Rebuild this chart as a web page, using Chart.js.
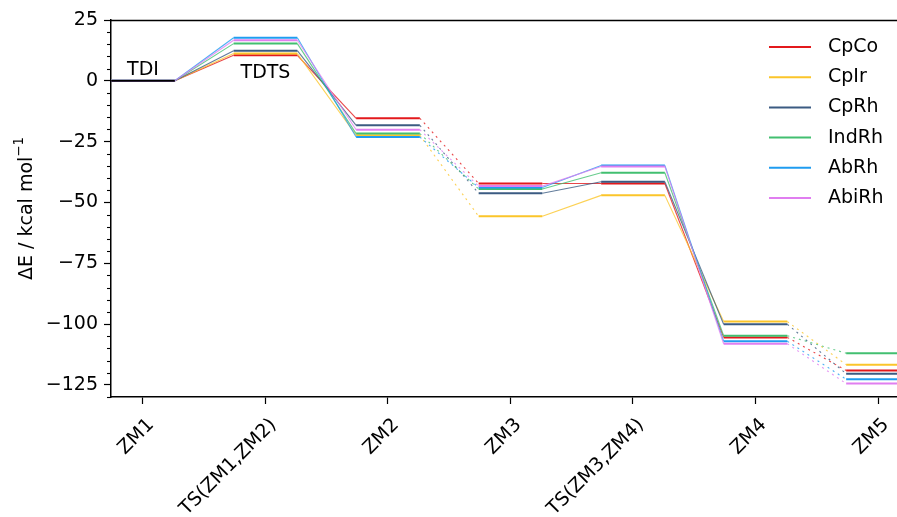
<!DOCTYPE html>
<html><head><meta charset="utf-8">
<script src="https://cdn.jsdelivr.net/npm/chart.js@4"></script>
<style>html,body{margin:0;padding:0;background:#fff}#wrap{width:897px;height:517px;position:relative}</style>
</head><body><div id="wrap"><canvas id="c"></canvas></div>
<script>
const states = ['ZM1','TS(ZM1,ZM2)','ZM2','ZM3','TS(ZM3,ZM4)','ZM4','ZM5'];
const speciesNames = ['CpCo','CpIr','CpRh','IndRh','AbRh','AbiRh'];
const CpCo  = [0, 10.5, -15.4, -42.2, -42.2, -105.5, -119.1];
const CpIr  = [0, 11.2, -22.4, -55.7, -47.1,  -99.0, -116.7];
const CpRh  = [0, 12.4, -18.3, -46.2, -41.5, -100.1, -120.4];
const IndRh = [0, 15.3, -21.7, -44.5, -37.8, -104.8, -112.0];
const AbRh  = [0, 17.7, -23.1, -43.9, -34.8, -107.1, -122.7];
const AbiRh = [0, 16.7, -20.1, -43.3, -35.2, -108.1, -124.5];
const yTicks = [25, 0, -25, -50, -75, -100, -125];
const dottedLinks = [2, 5];
const annotations = [{text:'TDI', x:0, y:4.6}, {text:'TDTS', x:1, y:3.3}];

const seriesValues = [CpCo, CpIr, CpRh, IndRh, AbRh, AbiRh];
const colors = ['#e3191c', '#fbc52a', '#3b5b82', '#42bf70', '#1f9cf0', '#e07ef0'];
const HW = 0.26;
const FONT = '"DejaVu Sans", sans-serif';
const FS = 19;

function rgba(hex, a){const n=parseInt(hex.slice(1),16);return `rgba(${n>>16},${(n>>8)&255},${n&255},${a})`;}

const datasets = seriesValues.map((vals, si) => {
  const data = [];
  vals.forEach((v, i) => { data.push({x:i-HW, y:v}); data.push({x:i+HW, y:v}); });
  const c = colors[si];
  return {
    label: speciesNames[si], data, order: 10 - si,
    borderColor: c, borderWidth: 2, pointRadius: 0, fill: false, tension: 0,
    segment: {
      borderWidth: ctx => ctx.p0DataIndex % 2 === 0 ? 2 : 1.1,
      borderColor: ctx => ctx.p0DataIndex % 2 === 0 ? c : rgba(c, 0.8),
      borderDash: ctx => (ctx.p0DataIndex % 2 === 1 && dottedLinks.includes((ctx.p0DataIndex-1)/2)) ? [2, 4] : undefined
    }
  };
});
datasets.push({label:'_ref', data:[{x:-HW,y:0},{x:HW,y:0}], borderColor:'#000', borderWidth:1.8, pointRadius:0, order:-1});

const extras = {
  id: 'extras',
  afterDraw(chart) {
    const {ctx, chartArea:ca, scales:{x, y}} = chart;
    ctx.save();
    ctx.strokeStyle = '#000'; ctx.lineWidth = 1.5;
    ctx.beginPath(); ctx.moveTo(ca.left, ca.top + 0.5); ctx.lineTo(ca.right, ca.top + 0.5); ctx.stroke();
    ctx.lineWidth = 1.1;
    for (let v = -130; v <= 25; v += 5) {
      if (v % 25 === 0) continue;
      const py = Math.round(y.getPixelForValue(v)) + 0.5;
      ctx.beginPath(); ctx.moveTo(ca.left - 4, py); ctx.lineTo(ca.left, py); ctx.stroke();
    }
    ctx.fillStyle = '#000'; ctx.font = `${FS}px ${FONT}`;
    ctx.textAlign = 'center'; ctx.textBaseline = 'middle';
    annotations.forEach(a => ctx.fillText(a.text, x.getPixelForValue(a.x), y.getPixelForValue(a.y)));
    ctx.save();
    ctx.translate(27, (ca.top + ca.bottom) / 2);
    ctx.rotate(-Math.PI / 2);
    const main = 'ΔE / kcal mol';
    const sup = '−1';
    ctx.font = `${FS}px ${FONT}`;
    const w1 = ctx.measureText(main).width;
    ctx.font = `${FS*0.7}px ${FONT}`;
    const w2 = ctx.measureText(sup).width;
    const start = -(w1 + w2) / 2;
    ctx.textAlign = 'left'; ctx.textBaseline = 'middle';
    ctx.font = `${FS}px ${FONT}`;
    ctx.fillText(main, start, 0);
    ctx.font = `${FS*0.7}px ${FONT}`;
    ctx.fillText(sup, start + w1, -7);
    ctx.restore();
    ctx.font = `${FS}px ${FONT}`; ctx.textAlign = 'left'; ctx.textBaseline = 'middle';
    speciesNames.forEach((n, i) => {
      const ly = 47 + i * 30.2;
      ctx.strokeStyle = colors[i]; ctx.lineWidth = 2;
      ctx.beginPath(); ctx.moveTo(769, ly); ctx.lineTo(811, ly); ctx.stroke();
      ctx.fillStyle = '#000';
      ctx.fillText(n, 828, ly);
    });
    ctx.restore();
  }
};

new Chart(document.getElementById('c'), {
  type: 'line',
  data: { datasets },
  options: {
    responsive: true, maintainAspectRatio: false, animation: false,
    layout: { padding: { top: 20, right: 0, left: 0, bottom: 0 } },
    plugins: { legend: { display: false }, tooltip: { enabled: false } },
    scales: {
      x: {
        type: 'linear', min: -0.261, max: 6.155,
        afterBuildTicks: s => { s.ticks = states.map((_, i) => ({value: i})); },
        afterFit: s => { s.height = 120; s.paddingLeft = 0; s.paddingRight = 0; },
        ticks: { callback: (v) => states[v] ?? '', minRotation: 45, maxRotation: 45, autoSkip: false,
                 color: '#000', font: { family: FONT, size: FS }, padding: 10, labelOffset: 8 },
        grid: { drawOnChartArea: false, drawTicks: true, tickLength: 7, tickColor: '#000', tickWidth: 1.2 },
        border: { display: true, color: '#000', width: 1.5 }
      },
      y: {
        type: 'linear', min: -130, max: 25,
        afterBuildTicks: s => { s.ticks = yTicks.map(v => ({value: v})); },
        afterFit: s => { s.width = 111; s.paddingTop = 0; s.paddingBottom = 0; },
        ticks: { callback: v => String(v).replace('-', '−'), color: '#000', font: { family: FONT, size: FS }, padding: 6 },
        grid: { drawOnChartArea: false, drawTicks: true, tickLength: 7, tickColor: '#000', tickWidth: 1.2 },
        border: { display: true, color: '#000', width: 1.5 }
      }
    }
  },
  plugins: [extras]
});
</script></body></html>
